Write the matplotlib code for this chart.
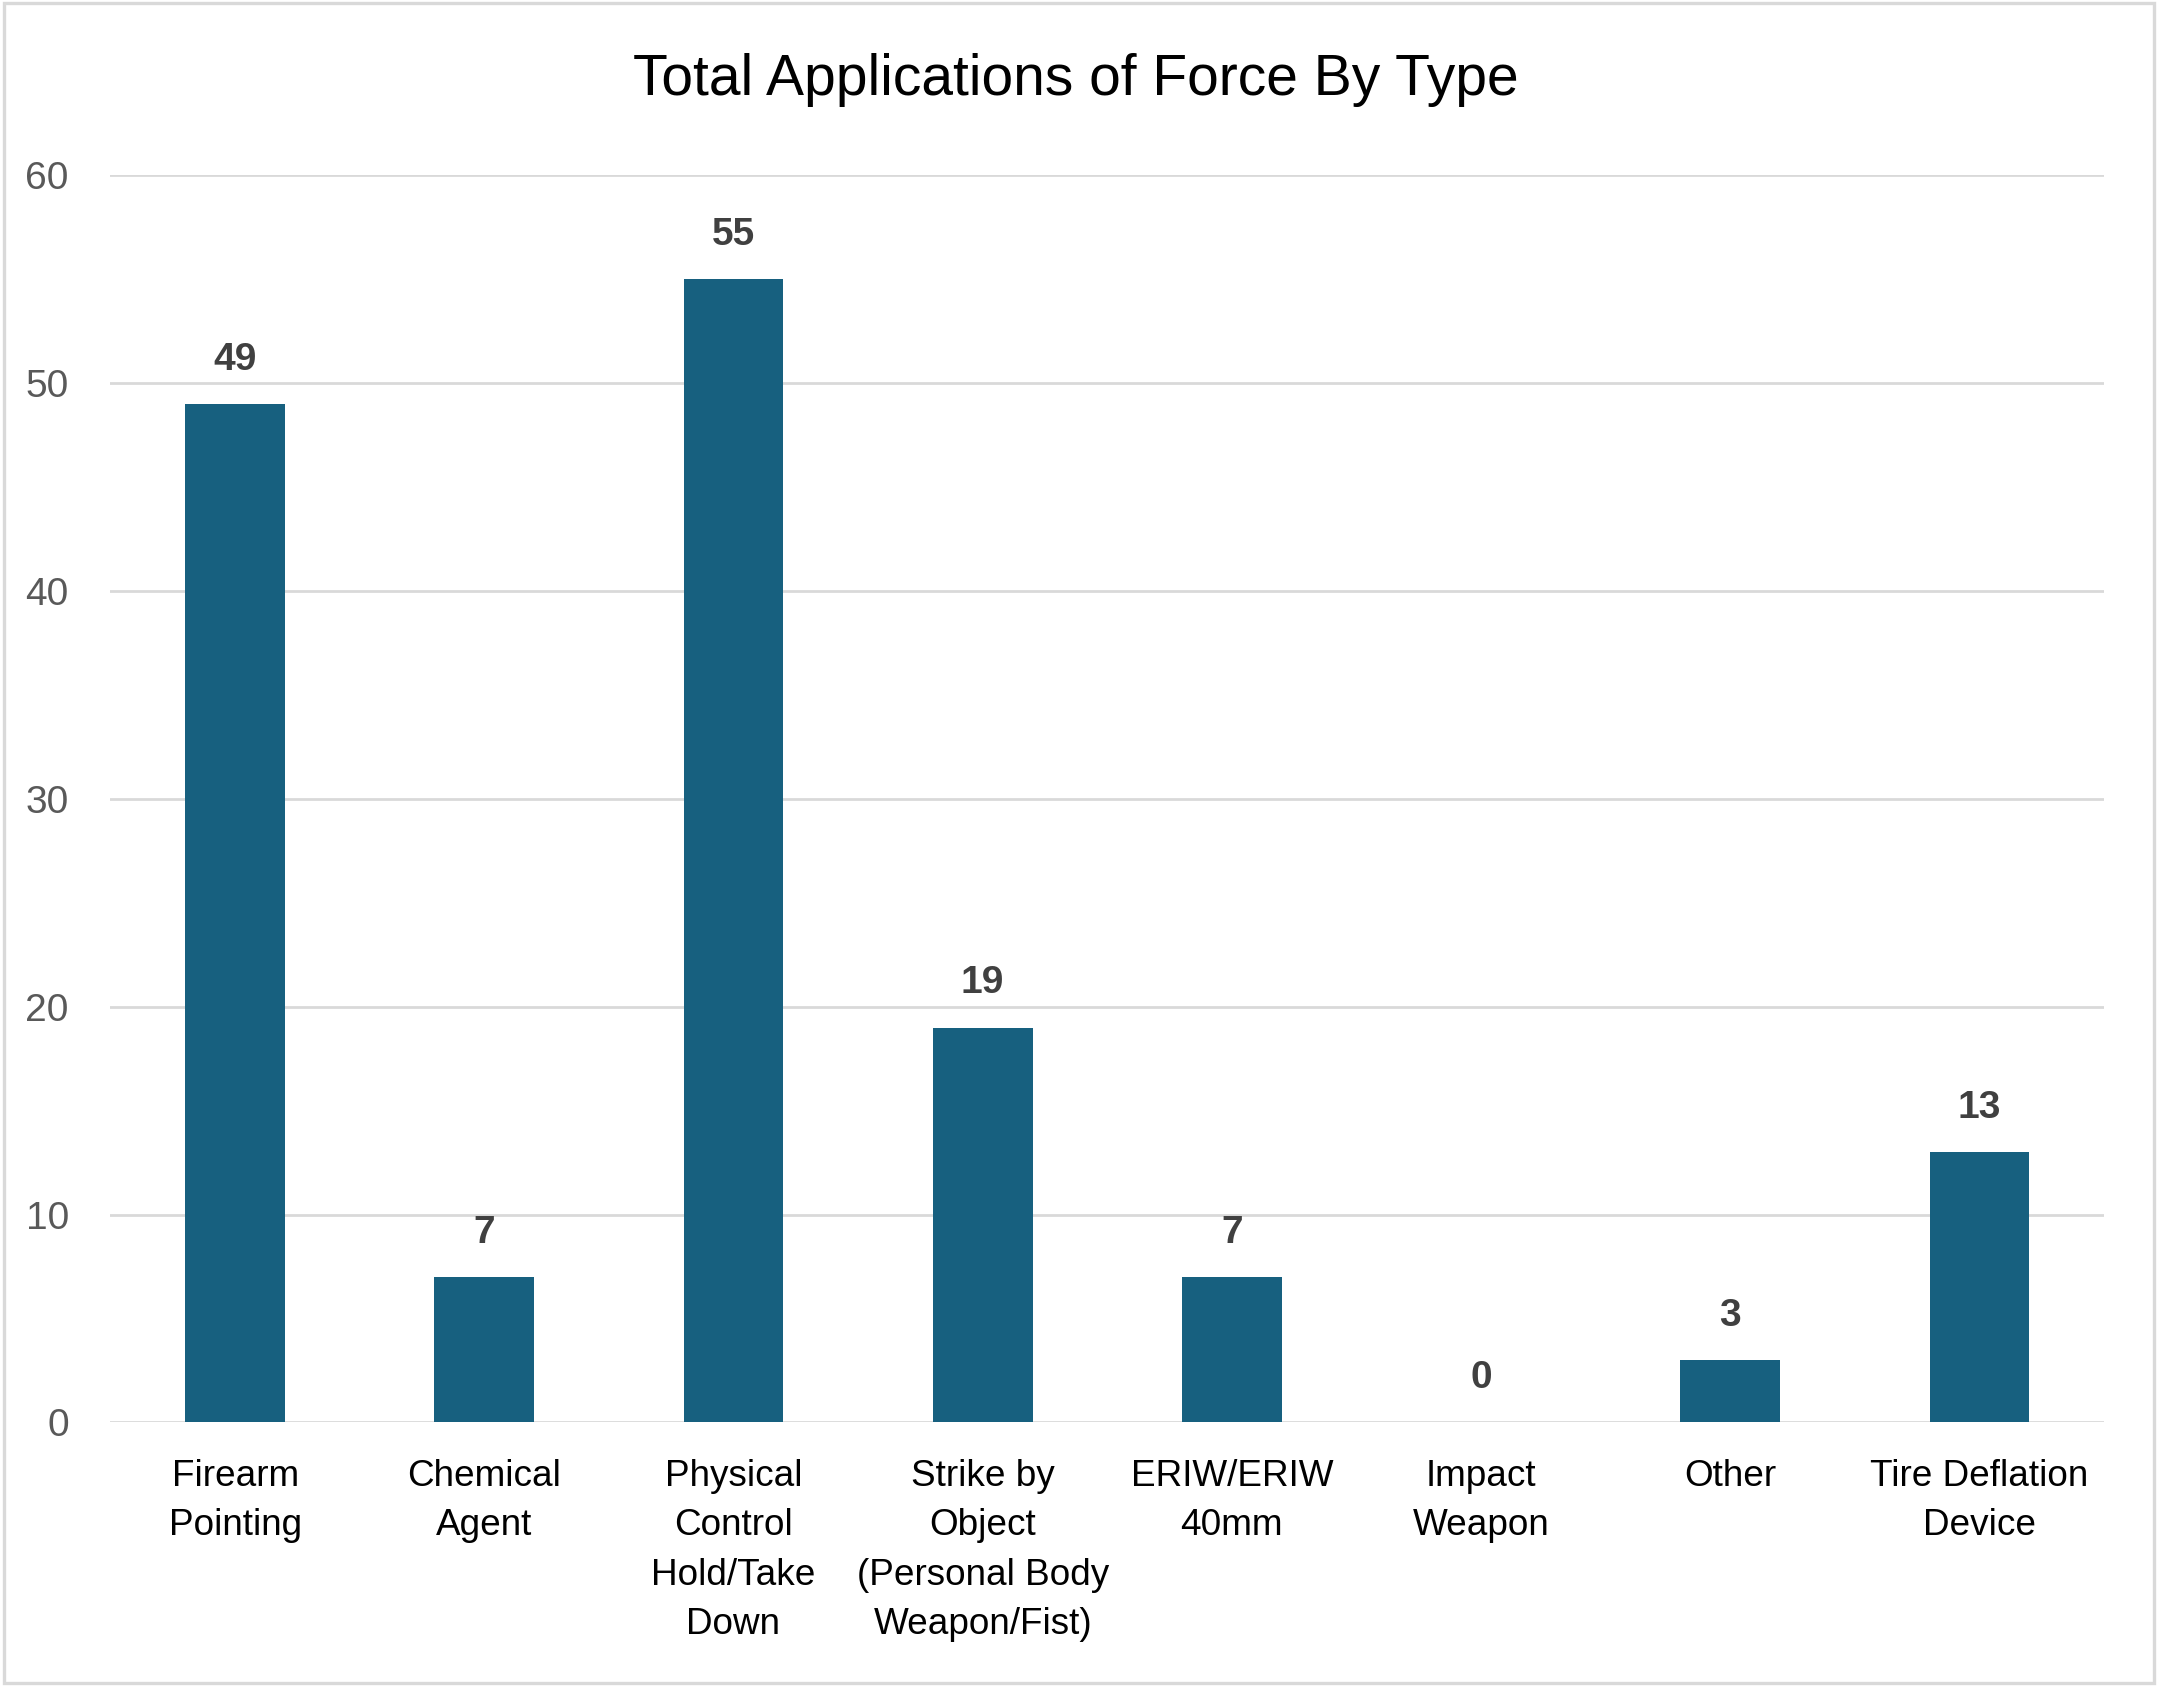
import matplotlib.pyplot as plt
from matplotlib.patches import Rectangle

plt.rcParams['font.family'] = ['Liberation Sans Narrow', 'Liberation Sans', 'DejaVu Sans']

categories = ['Firearm\nPointing', 'Chemical\nAgent', 'Physical\nControl\nHold/Take\nDown',
              'Strike by\nObject\n(Personal Body\nWeapon/Fist)', 'ERIW/ERIW\n40mm',
              'Impact\nWeapon', 'Other', 'Tire Deflation\nDevice']
counts = [49, 7, 55, 19, 7, 0, 3, 13]
y_ticks = [0, 10, 20, 30, 40, 50, 60]

bar_color = '#17607F'
grid_color = '#D9D9D9'

fig = plt.figure(figsize=(10.79, 8.43), dpi=200)
ax = fig.add_axes([0.0512, 0.1563, 0.9238, 0.7397])

x = list(range(len(categories)))
ax.bar(x, counts, width=0.4, color=bar_color, zorder=3)

for xi, v in zip(x, counts):
    ax.annotate(str(v), (xi, v), xytext=(0, 16), textcoords='offset points',
                ha='center', va='center', fontsize=14, fontweight='bold',
                color='#404040')

ax.set_xlim(-0.5, len(categories) - 0.5)
ax.set_ylim(0, 60)
ax.set_yticks(y_ticks)
ax.yaxis.grid(True, color=grid_color, linewidth=1.0, zorder=0)
ax.set_axisbelow(True)
for s in ax.spines.values():
    s.set_visible(False)

ax.set_xticks(x)
ax.set_xticklabels(categories, fontsize=13.3, color='black', linespacing=1.54)
ax.tick_params(axis='x', length=0, pad=13)
ax.tick_params(axis='y', length=0, pad=15, labelsize=14, labelcolor='#595959')

fig.text(0.4987, 0.9525, 'Total Applications of Force By Type', ha='center', va='center',
         fontsize=20.5, color='black')

fig.patches.append(Rectangle((0.002, 0.002), 0.996, 0.996, transform=fig.transFigure,
                             fill=False, edgecolor='#D9D9D9', linewidth=1.2))

fig.savefig('out.png', dpi=200)
